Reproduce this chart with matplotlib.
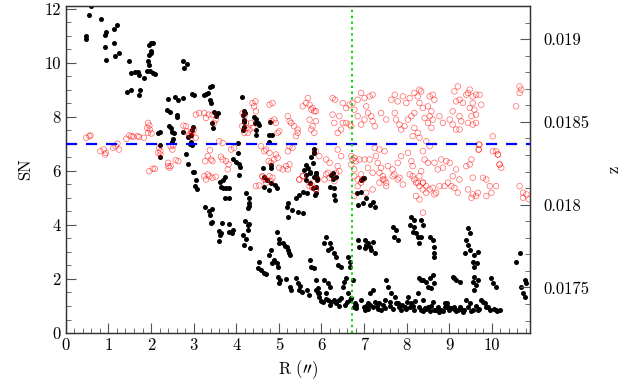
import matplotlib
matplotlib.use("Agg")
import matplotlib.pyplot as plt
from matplotlib.ticker import MultipleLocator, FuncFormatter


# -------------------------------------------------
# DATA
# -------------------------------------------------

# black points : SN vs R
black_r = [
    0.59, 0.55, 0.48, 0.48, 0.82, 0.95, 0.92, 0.91, 0.95, 1.13, 1.19, 1.13, 1.16, 1.25,
    1.48, 1.54, 1.62, 1.70, 1.72, 1.84, 1.44, 1.53, 1.75, 1.72,
    1.99, 2.04, 1.96, 2.01, 1.99, 1.96, 1.93, 1.96, 1.91, 1.97, 2.04, 2.09,
    2.17, 2.21, 2.21, 2.21, 2.74, 2.85, 2.77, 2.40, 2.56, 2.64, 2.74,
    2.38, 2.44, 2.60, 2.62, 2.43, 2.46, 2.50, 2.54, 2.52, 2.50,
    2.76, 2.87, 2.91, 2.83, 2.86, 2.97, 2.99,
    3.01, 3.25, 3.30, 3.38, 3.43, 3.33, 3.38, 3.41, 3.48, 3.56, 3.52, 3.44, 3.46,
    2.99, 2.97, 2.94, 2.94, 2.96, 3.01, 3.05, 3.09, 3.04,
    3.62, 3.64, 3.70, 3.76, 3.84, 3.74, 3.82, 3.74, 3.68,
    3.27, 3.35, 3.43, 3.38, 3.43, 3.41,
    3.67, 3.59, 3.62, 3.64, 3.60, 3.82, 3.84, 3.90, 3.93,
    4.13, 4.19, 4.15, 4.21, 4.17, 4.19, 4.19, 4.15,
    4.42, 4.46, 4.50, 4.46, 4.46, 4.45, 4.54,
    4.03, 4.03, 3.93, 3.99, 4.06, 4.09, 4.07,
    4.24, 4.29, 4.29, 4.27, 4.31,
    4.21, 4.27, 4.31, 4.27, 4.15, 4.23, 4.32, 4.19,
    4.78, 4.78, 4.82, 4.82, 4.62, 4.66, 4.71, 4.82, 4.92, 4.95, 4.78, 4.66, 4.80, 4.83,
    4.95, 5.00, 5.01, 5.09, 5.15, 5.21, 5.23, 5.18, 5.25,
    4.82, 4.78, 4.89, 4.85, 4.95, 4.97,
    4.54, 4.50, 4.58, 4.64, 4.70,
    4.97, 5.03, 5.01, 5.17, 5.25, 5.29, 5.40, 5.44, 5.48, 5.72, 5.76, 5.87, 5.91,
    5.21, 5.18, 5.21, 5.32, 5.44, 5.56,
    5.40, 5.48, 5.56, 5.65, 5.60, 5.64, 5.68, 5.72, 5.83, 5.64, 5.73, 5.81, 5.87, 5.86, 5.90,
    5.76, 5.83, 5.79, 5.72, 5.87, 5.64, 6.26, 6.34, 6.97, 5.83, 5.83,
    5.87, 5.90, 5.87, 5.85, 6.23, 6.26, 6.19, 6.29, 6.30, 6.32,
    6.11, 6.07, 6.19, 6.23, 6.15, 6.30, 6.34, 6.38, 6.46, 6.62, 6.66, 6.68,
    5.83, 5.87, 5.91, 5.95,
    6.07, 6.15, 6.19, 6.11, 6.15, 6.03, 6.23, 6.30, 6.42, 6.46, 6.54, 6.58, 6.50, 6.62,
    6.66, 6.73, 6.76, 6.81,
    6.85, 6.89, 7.01, 7.09, 7.20, 7.17, 7.01, 7.25, 7.13, 7.05,
    6.84, 6.93, 6.85, 6.97, 7.05, 7.13, 7.20, 7.25, 6.93, 6.99,
    6.93, 7.01, 7.09, 7.13, 7.20, 7.25, 7.36, 7.40, 7.48, 7.52, 7.56, 7.64, 7.72, 7.79,
    7.87, 7.95, 8.03, 8.11, 8.18, 8.26, 8.34, 8.38,
    7.67, 7.75, 7.71, 7.79, 8.11, 8.18, 8.07, 8.18, 8.22, 8.26, 8.14,
    8.34, 8.38, 8.34, 8.30, 8.54, 8.61, 8.65, 8.63, 8.65,
    9.44, 9.48, 9.40, 9.44, 9.48, 9.36, 9.59, 9.67, 9.55, 9.65, 9.59,
    10.65, 10.57,
    8.30, 8.38, 8.46, 8.54, 8.61, 8.65, 8.58, 8.50,
    9.08, 9.16, 9.24, 9.12, 9.59, 9.55, 9.63, 9.59, 9.67,
    9.99, 10.02, 10.10, 10.69, 10.77, 10.81, 10.73, 10.77,
    8.34, 8.42, 8.50, 8.61, 8.65, 8.73, 8.81, 8.89, 8.97, 9.05, 9.12, 9.20, 9.24, 9.32,
    9.40, 9.48, 9.55, 9.67, 9.75, 9.83, 9.91, 10.10, 10.18,
    # dense low-SN band
    7.00, 7.05, 7.10, 7.15, 7.22, 7.30, 7.33, 7.45, 7.50, 7.60, 7.62, 7.68, 7.75, 7.82,
    7.90, 7.98, 8.00, 8.08, 8.15, 8.20, 8.30, 8.38, 8.45, 8.55, 8.58, 8.68, 8.75, 8.85,
    8.90, 8.95, 9.00, 9.10, 9.15, 9.28, 9.35, 9.45, 9.50, 9.62, 9.70, 9.78, 9.85, 9.95,
    10.05, 10.12,
    6.55, 6.60, 6.70, 6.78, 6.82, 6.40, 6.35, 6.20, 6.10,
    5.50, 5.55, 5.65, 5.70, 5.95, 6.00,
]
black_sn = [
    12.10, 11.78, 11.00, 10.90, 11.63, 11.16, 11.04, 10.60, 10.10, 11.26, 11.42, 10.73, 10.27, 10.38,
    10.07, 9.62, 9.66, 9.68, 9.56, 9.46, 8.94, 9.00, 9.00, 8.80,
    10.75, 10.73, 10.67, 10.46, 10.36, 10.30, 10.07, 9.93, 9.71, 9.71, 9.64, 9.59,
    7.40, 7.46, 6.96, 6.53, 10.07, 9.96, 9.83, 8.66, 8.75, 8.63, 8.69,
    8.26, 8.20, 8.07, 8.01, 7.67, 7.60, 7.46, 7.42, 7.17, 7.09,
    7.43, 7.27, 7.00, 6.62, 6.25, 8.85, 5.95,
    8.81, 8.81, 8.85, 9.10, 9.15, 8.88, 8.63, 8.53, 8.20, 8.16, 8.04, 7.77, 7.58,
    7.64, 7.52, 7.33, 7.09, 6.96, 5.97, 5.67, 5.32, 5.44,
    5.60, 5.42, 5.36, 5.36, 5.36, 4.99, 4.99, 5.79, 5.67,
    4.68, 4.53, 4.58, 4.37, 4.12, 4.06,
    4.09, 3.79, 3.63, 3.69, 3.42, 4.04, 3.75, 3.69, 3.81,
    8.73, 8.23, 8.07, 8.14, 7.89, 7.83, 7.64, 7.52,
    8.01, 7.91, 7.77, 7.52, 7.33, 7.79, 7.70,
    7.02, 6.68, 6.43, 6.35, 6.26, 6.14, 5.85,
    5.20, 4.99, 4.80, 4.62, 4.70,
    4.16, 4.00, 4.04, 3.81, 3.63, 3.47, 3.14, 3.26,
    7.33, 7.09, 6.22, 6.10, 6.10, 5.79, 5.67, 5.54, 5.48, 5.36, 5.30, 5.42, 7.80, 7.33,
    3.75, 3.47, 3.32, 3.32, 3.22, 3.07, 2.95, 3.17, 2.89,
    3.07, 2.89, 2.70, 2.58, 2.60, 2.46,
    2.64, 2.40, 2.33, 2.23, 2.19,
    2.09, 1.96, 1.84, 1.99, 1.71, 1.59, 2.03, 1.84, 1.59, 2.70, 2.46, 1.59, 1.47,
    4.80, 4.68, 4.31, 4.56, 4.49, 4.46,
    4.99, 5.11, 5.23, 5.17, 6.04, 6.22, 6.10, 5.91, 5.79, 5.67, 5.54, 5.36, 5.17, 5.80, 5.67,
    6.53, 6.65, 6.28, 5.97, 5.91, 5.85, 5.93, 5.79, 5.73, 6.80, 6.70,
    5.91, 5.73, 5.42, 5.11, 5.85, 5.69, 5.42, 5.36, 5.11, 4.93,
    3.57, 3.32, 3.32, 3.14, 3.07, 2.95, 2.83, 2.52, 2.46, 2.83, 2.64, 2.46,
    2.40, 1.96, 1.66, 1.47,
    1.96, 1.84, 1.71, 1.47, 1.22, 1.16, 1.16, 1.22, 1.22, 1.28, 1.90, 2.03, 1.71, 1.47,
    1.22, 1.96, 0.97, 0.91,
    3.44, 3.20, 3.44, 3.32, 3.38, 3.07, 3.14, 2.95, 3.20, 3.26,
    5.17, 5.23, 4.74, 4.80, 4.99, 4.74, 4.86, 4.68, 5.67, 5.73,
    1.22, 0.85, 1.10, 1.47, 1.59, 1.16, 1.10, 0.85, 1.22, 1.96, 1.71, 1.47, 1.35, 1.10,
    0.85, 0.97, 1.35, 1.10, 0.85, 1.47, 1.96, 1.22,
    3.94, 3.81, 3.57, 3.44, 4.31, 4.19, 4.00, 3.94, 3.69, 3.57, 3.75,
    4.19, 4.00, 3.57, 3.32, 3.57, 3.44, 3.20, 2.95, 2.83,
    3.88, 3.69, 3.44, 3.26, 3.07, 2.97, 2.89, 3.01, 2.64, 2.60, 2.46,
    2.95, 2.64,
    2.03, 1.96, 1.90, 2.03, 2.15, 1.84, 1.66, 1.71,
    2.09, 1.96, 1.90, 2.03, 2.09, 1.90, 1.78, 1.59, 1.96,
    2.03, 1.84, 1.71, 1.71, 1.96, 1.84, 1.47, 1.35,
    0.85, 0.91, 0.97, 1.16, 0.85, 0.97, 0.85, 1.10, 0.97, 0.91, 0.97, 0.85, 0.97, 0.79,
    1.22, 1.10, 0.85, 0.85, 1.22, 1.10, 0.97, 0.85, 0.85,
    # dense low-SN band
    0.95, 1.00, 0.90, 1.05, 0.95, 1.00, 0.88, 1.05, 0.92, 1.00, 1.15, 0.90, 1.10, 0.95,
    1.02, 0.88, 1.15, 0.95, 1.00, 1.20, 0.95, 0.82, 0.88, 0.80, 1.00, 0.85, 0.78, 0.82,
    0.95, 1.10, 0.85, 0.88, 0.80, 0.90, 0.85, 0.95, 0.80, 1.00, 0.90, 1.15, 0.95, 0.85,
    0.90, 0.80,
    1.05, 1.15, 1.30, 1.10, 1.02, 1.00, 1.10, 1.05, 1.25,
    1.75, 1.50, 1.60, 1.40, 1.35, 1.20,
]

# red open circles : z vs R
red_r = [
    0.48, 0.55, 0.58, 0.81, 0.89, 0.94, 0.92, 1.11, 1.17, 1.25, 1.21,
    1.42, 1.49, 1.54, 1.58, 1.68, 1.72, 1.83, 1.93, 1.96, 1.91, 1.97, 1.93, 2.01,
    2.19, 2.22, 2.17, 2.22, 1.96, 2.04, 2.09, 2.40, 2.43, 2.46, 2.40, 2.46, 2.52, 2.50,
    2.58, 2.64, 2.76, 2.82, 2.83, 2.90, 2.95,
    3.05, 3.13, 3.01, 2.97, 2.94, 3.05, 3.25, 3.29, 3.35, 3.44, 3.48, 3.52,
    3.27, 3.33, 3.41, 3.44, 3.38, 3.25, 3.29, 3.37, 3.44, 3.52, 3.33,
    3.60, 3.68, 3.64, 3.68, 3.76, 3.82, 3.80, 3.88, 3.95,
    4.15, 4.19, 4.23, 4.14, 4.24, 4.19, 4.27, 4.31, 4.38, 4.45, 4.42, 4.46, 4.35, 4.40,
    4.58, 4.66, 4.70, 4.78, 4.76, 4.82, 4.89, 4.97, 4.93,
    4.46, 4.54, 4.61, 4.66, 4.70, 4.78,
    4.78, 4.85, 4.89, 4.82, 4.93, 4.97, 5.01,
    5.01, 5.09, 5.17, 5.21, 5.25, 5.21, 5.25, 5.32,
    5.21, 5.25, 5.29, 5.36, 5.44, 5.44, 5.40,
    5.56, 5.64, 5.72, 5.79, 5.87, 5.68, 5.76, 5.72, 5.79, 5.76, 5.83,
    5.48, 5.56, 5.72, 5.79, 5.87, 5.83, 5.87,
    6.26, 6.32, 6.50, 6.58, 6.66, 6.73, 6.26, 6.30, 6.42, 6.50, 6.58, 6.66, 6.70, 6.46, 6.38,
    6.85, 6.93, 7.01, 7.05, 7.13, 7.20, 7.09, 7.17, 7.20, 7.25, 7.01, 6.93, 6.85, 6.77,
    7.40, 7.52, 7.64, 7.72, 7.79, 7.91, 7.99, 7.72, 7.75, 7.83, 7.87, 7.95, 8.03, 8.11,
    8.18, 8.07, 8.18, 8.26, 8.34, 8.30, 8.38, 8.18, 8.26, 8.14,
    5.87, 5.95, 6.11, 6.19, 6.15, 6.07, 5.91, 6.38, 6.46, 6.38, 6.42, 6.77, 6.81, 6.89,
    7.01, 7.13, 7.25, 7.36, 7.48, 7.28, 7.32, 7.40, 7.44, 7.48, 7.52, 7.36, 7.56, 7.67,
    7.71, 7.79, 7.91, 7.79, 7.87, 8.03, 8.11, 8.14, 8.07, 8.18, 8.26, 8.38, 8.34, 7.20,
    7.09, 6.93, 6.77,
    8.30, 8.54, 8.61, 8.65, 8.50, 8.58, 8.54, 8.61, 8.50, 8.58, 8.42, 8.77, 8.85, 9.01,
    9.08, 9.12, 9.20, 9.16, 9.24, 9.08, 9.16, 9.24, 9.32, 9.40, 9.44, 9.48, 9.55, 9.63,
    9.71, 9.55, 9.75, 9.48, 9.59, 9.52, 9.63, 9.44, 9.55, 9.63, 9.24, 9.28, 10.57, 10.65,
    10.65, 10.69,
    8.30, 8.46, 8.54, 8.38, 8.42, 8.50, 8.65, 8.73, 8.81, 8.85, 8.93, 9.01, 9.16, 9.48,
    9.52, 9.40, 9.55, 9.44, 9.55, 9.63, 9.52, 9.67, 9.79, 9.87, 9.95, 9.87, 9.99, 10.10,
    10.02, 10.14, 10.18, 10.22, 9.71, 9.69, 8.30, 8.38, 8.46, 8.54, 8.61, 8.65, 8.69, 8.77,
    8.89, 8.97, 9.05, 9.08, 9.12, 9.24, 9.20, 10.65, 10.73, 10.81, 10.87, 10.73,
    4.62, 4.70, 4.82, 4.85, 5.48, 5.56, 5.72, 5.79, 5.87, 6.11, 6.19, 6.30, 6.34, 6.97,
    7.05, 7.20, 7.36, 7.44, 7.52, 7.67, 7.83, 8.14, 8.22, 8.30, 8.38, 8.46, 8.22, 8.30,
    8.38,
    6.70, 6.73, 6.70, 6.77, 6.85, 6.85, 6.93, 6.77,
    10.02, 9.69, 9.69, 10.10, 10.14, 10.18,
]
red_z = [
    0.018404, 0.018414, 0.018418, 0.018323, 0.018333, 0.018313, 0.018303, 0.018343, 0.018353, 0.018333, 0.018369,
    0.018398, 0.018418, 0.018414, 0.018410, 0.018414, 0.018410, 0.018404, 0.018494, 0.018478, 0.018464, 0.018454, 0.018434, 0.018430,
    0.018343, 0.018323, 0.018313, 0.018303, 0.018202, 0.018217, 0.018217, 0.018253, 0.018223, 0.018233, 0.018233, 0.018353, 0.018357, 0.018333,
    0.018269, 0.018263, 0.018478, 0.018474, 0.018443, 0.018423, 0.018443,
    0.018544, 0.018554, 0.018454, 0.018434, 0.018414, 0.018404, 0.018554, 0.018524, 0.018544, 0.018544, 0.018494, 0.018514,
    0.018263, 0.018293, 0.018273, 0.018263, 0.018329, 0.018172, 0.018152, 0.018172, 0.018163, 0.018169, 0.018183,
    0.018383, 0.018373, 0.018289, 0.018273, 0.018263, 0.018243, 0.018213, 0.018333, 0.018343,
    0.018554, 0.018534, 0.018494, 0.018474, 0.018464, 0.018434, 0.018434, 0.018454, 0.018614, 0.018624, 0.018594, 0.018564, 0.018494, 0.018464,
    0.018353, 0.018323, 0.018333, 0.018313, 0.018263, 0.018253, 0.018273, 0.018283, 0.018303,
    0.018112, 0.018116, 0.018169, 0.018152, 0.018133, 0.018172,
    0.018604, 0.018614, 0.018514, 0.018504, 0.018494, 0.018434, 0.018443,
    0.018223, 0.018213, 0.018233, 0.018213, 0.018243, 0.018323, 0.018353, 0.018343,
    0.018534, 0.018504, 0.018494, 0.018474, 0.018454, 0.018434, 0.018414,
    0.018594, 0.018614, 0.018604, 0.018584, 0.018564, 0.018644, 0.018574, 0.018514, 0.018474, 0.018454, 0.018434,
    0.018152, 0.018172, 0.018133, 0.018112, 0.018092, 0.018564, 0.018504,
    0.018644, 0.018634, 0.018614, 0.018584, 0.018604, 0.018614, 0.018544, 0.018494, 0.018534, 0.018494, 0.018494, 0.018484, 0.018474, 0.018454, 0.018434,
    0.018634, 0.018675, 0.018644, 0.018594, 0.018654, 0.018664, 0.018554, 0.018534, 0.018504, 0.018474, 0.018514, 0.018484, 0.018534, 0.018574,
    0.018554, 0.018514, 0.018634, 0.018664, 0.018624, 0.018654, 0.018614, 0.018554, 0.018514, 0.018484, 0.018454, 0.018474, 0.018514, 0.018534,
    0.018554, 0.018644, 0.018675, 0.018654, 0.018684, 0.018614, 0.018584, 0.018464, 0.018434, 0.018414,
    0.018323, 0.018293, 0.018273, 0.018253, 0.018193, 0.018152, 0.018152, 0.018333, 0.018293, 0.018233, 0.018202, 0.018283, 0.018263, 0.018273,
    0.018273, 0.018273, 0.018343, 0.018333, 0.018323, 0.018293, 0.018253, 0.018223, 0.018172, 0.018152, 0.018112, 0.018133, 0.018233, 0.018213,
    0.018183, 0.018152, 0.018122, 0.018253, 0.018293, 0.018313, 0.018263, 0.018233, 0.018183, 0.018152, 0.018133, 0.018133, 0.018202, 0.018193,
    0.018223, 0.018183, 0.018213,
    0.018695, 0.018654, 0.018664, 0.018634, 0.018594, 0.018564, 0.018534, 0.018514, 0.018494, 0.018464, 0.018524, 0.018534, 0.018494, 0.018514,
    0.018564, 0.018684, 0.018714, 0.018624, 0.018634, 0.018484, 0.018454, 0.018454, 0.018614, 0.018664, 0.018675, 0.018695, 0.018654, 0.018664,
    0.018664, 0.018614, 0.018604, 0.018584, 0.018574, 0.018534, 0.018544, 0.018494, 0.018484, 0.018494, 0.018534, 0.018504, 0.018594, 0.018675,
    0.018714, 0.018695,
    0.018404, 0.018383, 0.018353, 0.018323, 0.018273, 0.018253, 0.018253, 0.018213, 0.018273, 0.018223, 0.018263, 0.018253, 0.018213, 0.018243,
    0.018273, 0.018233, 0.018163, 0.018092, 0.018062, 0.018052, 0.018042, 0.018072, 0.018163, 0.018152, 0.018112, 0.018052, 0.018072, 0.018112,
    0.018323, 0.018303, 0.018243, 0.018223, 0.018363, 0.018333, 0.018172, 0.018133, 0.018112, 0.018092, 0.018102, 0.018062, 0.018072, 0.018112,
    0.018112, 0.018133, 0.018112, 0.018172, 0.018102, 0.018152, 0.018072, 0.018112, 0.018072, 0.018062, 0.018032, 0.018042,
    0.018172, 0.018152, 0.018142, 0.018163, 0.018152, 0.018172, 0.018112, 0.018102, 0.018092, 0.018183, 0.018163, 0.018142, 0.018193, 0.018152,
    0.018072, 0.018092, 0.018193, 0.018152, 0.018133, 0.018172, 0.018163, 0.018172, 0.018133, 0.018112, 0.018092, 0.018072, 0.018052, 0.018032,
    0.017952,
    0.018293, 0.018273, 0.018243, 0.018172, 0.018152, 0.018112, 0.018133, 0.018052,
    0.018413, 0.018363, 0.018333, 0.018323, 0.018303, 0.018243,
]

sn_level = 7.0      # blue dashed line
r_cut = 6.72        # green dotted line


# -------------------------------------------------
# PLOT
# -------------------------------------------------

plt.rcParams["font.family"] = ["cmr10", "DejaVu Serif"]
plt.rcParams["mathtext.fontset"] = "cm"
plt.rcParams["axes.formatter.use_mathtext"] = True

fig = plt.figure(figsize=(6.27, 3.92), dpi=100)
ax = fig.add_axes([0.105, 0.1505, 0.740, 0.8342])

ax.scatter(black_r, black_sn, s=13, c="black", linewidths=0, zorder=2)

ax.set_xlim(0, 10.89)
ax.set_ylim(0, 12.11)
ax.xaxis.set_major_locator(MultipleLocator(1))
ax.xaxis.set_minor_locator(MultipleLocator(0.2))
ax.yaxis.set_major_locator(MultipleLocator(2))
ax.yaxis.set_minor_locator(MultipleLocator(0.5))
ax.xaxis.set_major_formatter(FuncFormatter(lambda v, p: "%d" % round(v)))
ax.yaxis.set_major_formatter(FuncFormatter(lambda v, p: "%d" % round(v)))
ax.tick_params(which="both", direction="in", top=False, right=False,
               color="#555555", labelsize=12)
ax.tick_params(which="major", length=7, width=0.8)
ax.tick_params(which="minor", length=3.5, width=0.6)
ax.set_xlabel(r"R $(\prime\prime)$", fontsize=12, labelpad=4)
ax.set_ylabel("SN", fontsize=12, labelpad=8)

ax2 = ax.twinx()
ax2.scatter(red_r, red_z, s=16, facecolors="none", edgecolors="red",
            linewidths=0.5, alpha=0.6, zorder=3)
ax2.set_ylim(0.017225, 0.0192)
ax2.yaxis.set_major_locator(MultipleLocator(0.0005))
ax2.yaxis.set_minor_locator(MultipleLocator(0.0001))
ax2.yaxis.set_major_formatter(FuncFormatter(lambda v, p: "%g" % round(v, 5)))
ax2.tick_params(which="both", direction="in", color="#555555", labelsize=12)
ax2.tick_params(which="major", length=7, width=0.8, pad=10)
ax2.tick_params(which="minor", length=3.5, width=0.6)
ax2.set_ylabel("z", fontsize=12, labelpad=12)

# reference lines drawn on top
ax2.plot([0, 10.89], [sn_level, sn_level], transform=ax.transData,
         color="blue", lw=1.6, dashes=(5, 4), zorder=5)
ax2.axvline(r_cut, color="#00dd00", lw=1.4, ls=(0, (1.2, 1.8)), zorder=5)

for a in (ax, ax2):
    for sp in a.spines.values():
        sp.set_color("#333333")
        sp.set_linewidth(0.9)

fig.savefig("out.png", dpi=100)
plt.close(fig)
